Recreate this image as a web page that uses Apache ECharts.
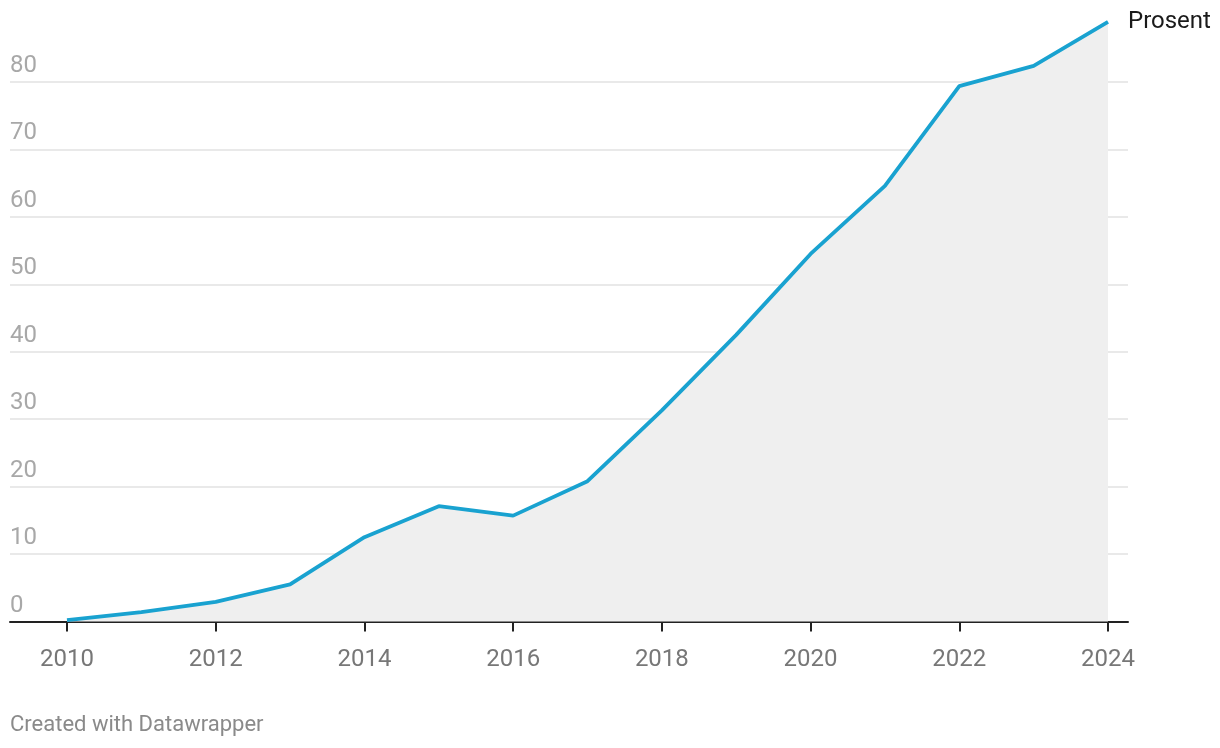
<!DOCTYPE html>
<html>
<head>
<meta charset="utf-8">
<script src="https://cdn.jsdelivr.net/npm/echarts@6/dist/echarts.min.js"></script>
<style>
html,body{margin:0;padding:0;background:#fff;}
#chart{width:1220px;height:748px;}
</style>
</head>
<body>
<div id="chart"></div>
<script>
const years = [2010,2011,2012,2013,2014,2015,2016,2017,2018,2019,2020,2021,2022,2023,2024];
const values = [0.2,1.4,2.9,5.5,12.5,17.1,15.7,20.8,31.3,42.5,54.5,64.6,79.4,82.4,88.9];
const xTickLabels = [2010,2012,2014,2016,2018,2020,2022,2024];
const yTicks = [0,10,20,30,40,50,60,70,80];
const seriesName = 'Prosent';
const footer = 'Created with Datawrapper';

const chart = echarts.init(document.getElementById('chart'), null, {renderer:'canvas'});
const font = 'Roboto, "Noto Sans", sans-serif';
chart.setOption({
  animation:false,
  backgroundColor:'#fff',
  graphic:[{type:'text', left:10, top:714, style:{text:footer, fill:'#8a8a8a', font:'22px ' + font}}],
  grid:{left:10, right:92, top:82, bottom:126.5, containLabel:false},
  xAxis:{
    type:'value', min:2009.2334, max:2024.269,
    axisLine:{show:true, lineStyle:{color:'#222', width:2}},
    axisTick:{show:true, customValues:xTickLabels, length:10, lineStyle:{color:'#222', width:2}},
    axisLabel:{customValues:xTickLabels, color:'#777', fontSize:24, fontFamily:font, margin:26, formatter:v=>String(v)},
    splitLine:{show:false}
  },
  yAxis:{
    type:'value', min:0, max:80, interval:10,
    axisLine:{show:false}, axisTick:{show:false},
    axisLabel:{inside:true, margin:0, verticalAlign:'bottom', padding:[0,0,4,0], color:'#a8a8a8', fontSize:24, fontFamily:font},
    splitLine:{show:true, lineStyle:{color:'#e2e2e2', width:1.5}}
  },
  series:[{
    type:'line', name:seriesName,
    data:years.map((y,i)=>[y, values[i]]),
    showSymbol:false, symbol:'none', clip:false,
    lineStyle:{color:'#19a2d0', width:3.8},
    areaStyle:{color:'#efefef', opacity:1},
    z:3,
    endLabel:{show:true, formatter:seriesName, color:'#1a1a1a', fontSize:24, fontFamily:font, distance:20}
  }]
});
</script>
</body>
</html>
